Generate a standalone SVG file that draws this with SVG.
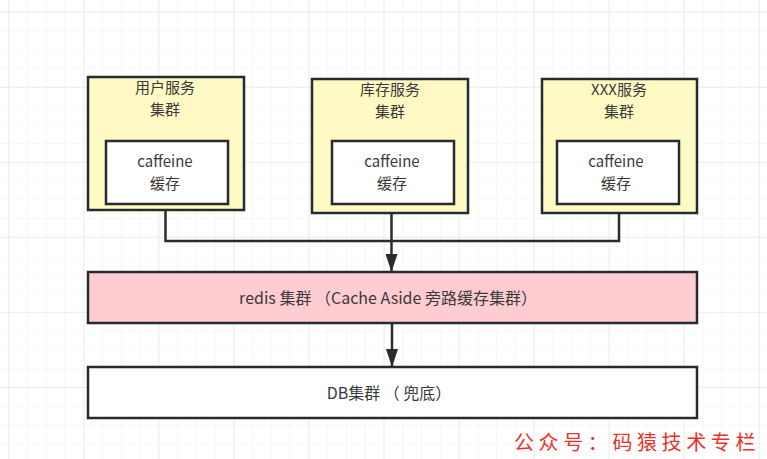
<svg xmlns="http://www.w3.org/2000/svg" width="767" height="459" viewBox="0 0 767 459">
<defs>
<pattern id="minor" x="8.3" y="11.7" width="18.76" height="18.76" patternUnits="userSpaceOnUse">
<path d="M0 0 V18.76 M0 0 H18.76" fill="none" stroke="#f1f1f1" stroke-width="1.2"/>
</pattern>
<pattern id="major" x="8.3" y="11.7" width="75.04" height="75.04" patternUnits="userSpaceOnUse">
<path d="M0 0 V75.04 M0 0 H75.04" fill="none" stroke="#e7e7e7" stroke-width="1.4"/>
</pattern>
<marker id="arr" viewBox="0 0 18 12" refX="17" refY="6" markerWidth="18" markerHeight="12" orient="auto" markerUnits="userSpaceOnUse">
<path d="M0 0 L18 6 L0 12 Z" fill="#2b2b2b"/>
</marker>
</defs>
<style>
.outer{fill:#fff9c4;stroke:#262b30;stroke-width:2.5}
.inner{fill:#ffffff;stroke:#262b30;stroke-width:2.5}
.t{font-family:"Noto Sans CJK SC","Noto Sans",sans-serif;font-size:15px;fill:#3a3a3a;text-anchor:middle}
.b{font-family:"Noto Sans CJK SC","Noto Sans",sans-serif;font-size:16px;fill:#3a3a3a;text-anchor:middle}
.c{fill:none;stroke:#2b2b2b;stroke-width:2.5}
</style>
<rect width="767" height="459" fill="#ffffff"/>
<rect width="767" height="459" fill="url(#minor)"/>
<rect width="767" height="459" fill="url(#major)"/>

<g id="connectors">
<path class="c" d="M165.5 210 V241 H391.5"/>
<path class="c" d="M619 213 V241 H391.5"/>
<path class="c" d="M391.5 213 V271" marker-end="url(#arr)"/>
<path class="c" d="M392 323 V366" marker-end="url(#arr)"/>
</g>

<g id="user-service">
<rect class="outer" x="88" y="77" width="156" height="133"/>
<text class="t" x="165" y="92.5">用户服务</text>
<text class="t" x="165" y="114.5">集群</text>
<rect class="inner" x="106" y="141" width="122" height="63"/>
<text class="t" x="165" y="166.5">caffeine</text>
<text class="t" x="165" y="188.5">缓存</text>
</g>

<g id="stock-service">
<rect class="outer" x="312" y="79" width="156" height="134"/>
<text class="t" x="390" y="94.5">库存服务</text>
<text class="t" x="390" y="116.5">集群</text>
<rect class="inner" x="332" y="141" width="122" height="63"/>
<text class="t" x="392" y="166.5">caffeine</text>
<text class="t" x="392" y="188.5">缓存</text>
</g>

<g id="xxx-service">
<rect class="outer" x="542" y="79" width="155" height="134"/>
<text class="t" x="619" y="94.5">XXX服务</text>
<text class="t" x="619" y="116.5">集群</text>
<rect class="inner" x="557" y="141" width="122" height="63"/>
<text class="t" x="616" y="166.5">caffeine</text>
<text class="t" x="616" y="188.5">缓存</text>
</g>

<g id="redis">
<rect x="88" y="272" width="609" height="51" fill="#ffccd1" stroke="#262b30" stroke-width="2.5"/>
<text class="b" x="388" y="304">redis 集群 （Cache Aside 旁路缓存集群）</text>
</g>

<g id="db">
<rect x="88" y="367" width="609" height="51" fill="#ffffff" stroke="#262b30" stroke-width="2.5"/>
<text class="b" x="389" y="399">DB集群 （ 兜底）</text>
</g>

<text x="514" y="450" font-family="'Noto Sans CJK SC',sans-serif" font-size="20" fill="#e8322c" letter-spacing="4.6">公众号：码猿技术专栏</text>
</svg>
